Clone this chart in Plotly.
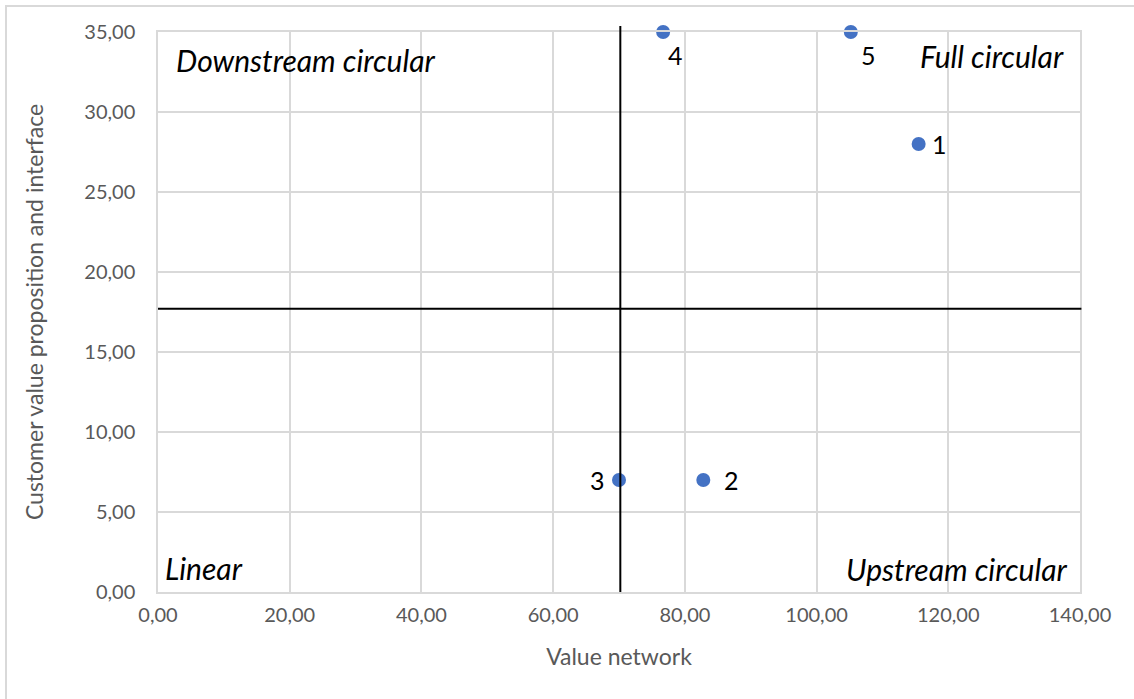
import plotly.graph_objects as go

# Data
labels = ["1", "2", "3", "4", "5"]
value_network = [115.5, 82.8, 70.0, 76.7, 105.2]
customer_value = [28.0, 7.0, 7.0, 35.0, 35.0]
x_split = 70.2
y_split = 17.7
x_ticks = [0, 20, 40, 60, 80, 100, 120, 140]
y_ticks = [0, 5, 10, 15, 20, 25, 30, 35]

# label offsets in pixels (style)
label_shift = [(21, 0), (28, 0), (-22, 0), (12, -23), (18, -23)]

W, H = 1134, 699
L, R, T, B = 158, 1080, 32, 592

FONT = "Lato, Open Sans, sans-serif"

fig = go.Figure()
fig.add_trace(go.Scatter(
    x=value_network, y=customer_value, mode="markers",
    marker=dict(size=14, color="#4472C4"),
    cliponaxis=False, showlegend=False, hoverinfo="skip",
))

pw = R - L
ph = B - T
def px_x(p):
    return (p - L) / pw
def px_y(p):
    return (B - p) / ph

shapes = [
    dict(type="rect", xref="paper", yref="paper",
         x0=px_x(6), x1=px_x(1140), y0=px_y(706), y1=px_y(6),
         line=dict(color="#d9d9d9", width=2), layer="below"),
    dict(type="line", xref="x", yref="paper", x0=x_split, x1=x_split,
         y0=0, y1=px_y(26), line=dict(color="black", width=2)),
    dict(type="line", xref="paper", yref="y", x0=0, x1=1.0015,
         y0=y_split, y1=y_split, line=dict(color="black", width=2)),
]

annotations = []
for lab, xv, yv, (dx, dy) in zip(labels, value_network, customer_value, label_shift):
    annotations.append(dict(text=lab, x=xv, y=yv, xref="x", yref="y",
                            xshift=dx, yshift=dy, showarrow=False,
                            xanchor="center", yanchor="middle",
                            font=dict(family=FONT, size=25, color="black")))

qfont = dict(family=FONT, size=30, color="black")
annotations += [
    dict(text="<i>Downstream circular</i>", xref="paper", yref="paper",
         x=px_x(174), y=px_y(60), xanchor="left", yanchor="middle",
         showarrow=False, font=qfont),
    dict(text="<i>Full circular</i>", xref="paper", yref="paper",
         x=px_x(1066), y=px_y(56), xanchor="right", yanchor="middle",
         showarrow=False, font=qfont),
    dict(text="<i>Linear</i>", xref="paper", yref="paper",
         x=px_x(163), y=px_y(568), xanchor="left", yanchor="middle",
         showarrow=False, font=qfont),
    dict(text="<i>Upstream circular</i>", xref="paper", yref="paper",
         x=px_x(1069), y=px_y(569), xanchor="right", yanchor="middle",
         showarrow=False, font=qfont),
]

tickfont = dict(family=FONT, size=20, color="#595959")
titlefont = dict(family=FONT, size=23, color="#595959")

fig.update_layout(
    width=W, height=H,
    margin=dict(l=L, r=W - R, t=T, b=H - B),
    plot_bgcolor="white", paper_bgcolor="white",
    separators=",.",
    shapes=shapes, annotations=annotations,
    xaxis=dict(range=[0, 140], tickvals=x_ticks, tickformat=".2f",
               showgrid=True, gridcolor="#d9d9d9", gridwidth=1.5,
               showline=True, mirror=True, linecolor="#d9d9d9", linewidth=1.5,
               zeroline=False, ticks="outside", ticklen=4, tickcolor="rgba(0,0,0,0)",
               tickfont=tickfont,
               title=dict(text="Value network", font=titlefont, standoff=24)),
    yaxis=dict(range=[0, 35], tickvals=y_ticks, tickformat=".2f",
               showgrid=True, gridcolor="#d9d9d9", gridwidth=1.5,
               showline=True, mirror=True, linecolor="#d9d9d9", linewidth=1.5,
               zeroline=False, ticks="outside", ticklen=17, tickcolor="rgba(0,0,0,0)",
               tickfont=tickfont,
               title=dict(text="Customer value proposition and interface", font=titlefont, standoff=34)),
)

fig.write_html("out.html")
